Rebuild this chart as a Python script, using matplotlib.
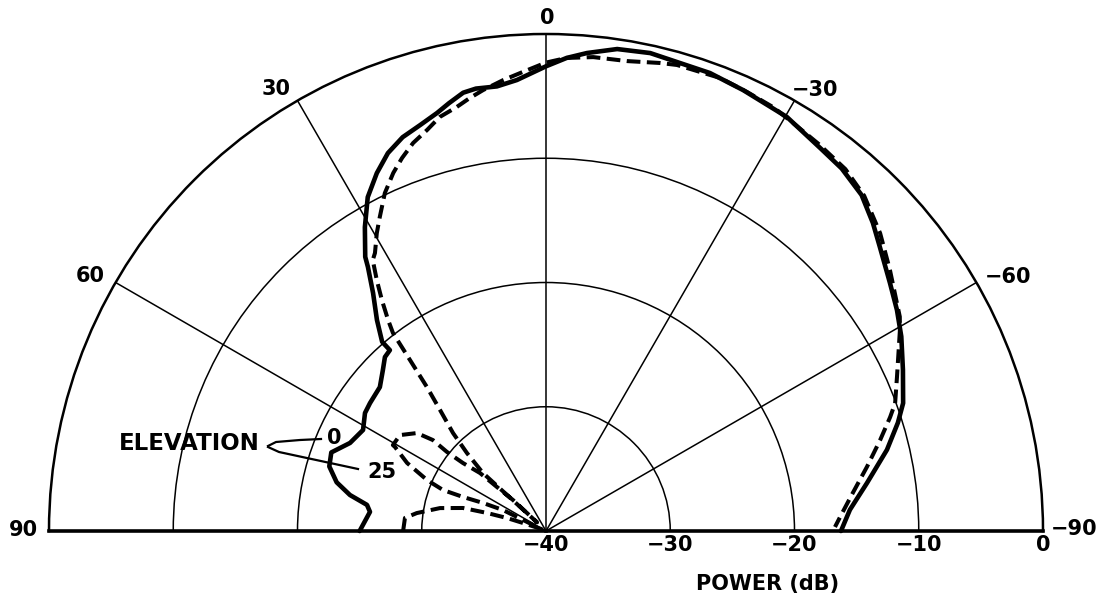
import numpy as np
import matplotlib
matplotlib.use("Agg")
import matplotlib.pyplot as plt
from matplotlib.lines import Line2D

# ---------------- data (azimuth in degrees, power in dB) ----------------
elev0_theta = [90.0, 83.8, 81.7, 79.6, 76.9, 73.4, 69.9, 65.8, 61.1, 56.9,
               54.0, 49.1, 45.4, 42.8, 40.8, 40.9, 38.7, 36.0, 34.0, 33.4,
               30.8, 28.1, 25.3, 22.7, 20.0, 17.2, 14.6, 12.8, 10.7, 9.0,
               6.3, 3.7, 0.0, -2.5, -4.9, -8.4, -12.3, -15.6, -19.7, -24.1,
               -30.2, -35.7, -39.2, -43.2, -46.7, -49.6, -54.2, -57.8, -61.3,
               -65.7, -70.3, -72.9, -76.6, -81.5, -86.0, -90.0]
elev0_db = [-25.0, -25.75, -25.44, -23.96, -22.7, -21.8, -21.6, -22.71, -23.18, -22.61,
            -22.49, -22.31, -21.56, -20.92, -20.77, -19.86, -18.24, -16.32, -14.37, -13.57,
            -11.53, -9.54, -8.14, -7.03, -6.27, -5.79, -5.23, -4.7, -4.1, -3.95,
            -4.0, -3.63, -2.6, -1.89, -1.39, -0.79, -0.63, -0.81, -0.85, -1.13,
            -1.45, -2.1, -2.35, -2.9, -3.85, -4.72, -5.87, -6.62, -7.4,
            -8.48, -9.47, -10.37, -11.79, -13.88, -15.48, -16.26]

elev25_theta = [90.0, 84.7, 82.1, 77.8, 74.5, 73.0, 71.6, 70.8, 67.0,
                64.0, 66.0, 67.7, 68.3, 66.8, 63.9, 60.9, 60.7, 56.7,
                52.8, 51.2, 51.4, 50.7, 48.7, 48.1, 46.8, 46.0,
                47.4, 45.4, 43.5, 41.2, 39.6, 38.5, 37.7, 36.8, 35.4,
                34.0, 32.6, 31.6, 29.6, 27.9, 25.5, 23.1, 21.1, 18.9,
                16.5, 14.4, 11.9, 10.0, 8.1, 5.4, 2.9, 0.0, -2.5,
                -5.7, -9.8, -13.7, -15.7, -21.0, -24.6, -28.2, -31.2, -35.2,
                -39.6, -43.5, -48.3, -52.8, -58.8, -60.4, -66.3, -69.9, -71.7,
                -74.8, -78.7, -82.9, -87.3, -89.2]
elev25_db = [-28.5, -28.6, -29.5, -31.27, -33.07, -35.03, -36.69, -38.04, -39.6,
             -36.15, -34.45, -32.78, -31.08, -29.58, -27.55, -26.09, -25.87, -25.94,
             -26.96, -28.32, -29.8, -31.36, -32.93, -34.7, -36.36, -39.0,
             -33.11, -31.07, -29.13, -27.05, -24.97, -22.41, -19.86, -18.78, -17.2,
             -15.65, -14.12, -13.73, -12.43, -11.41, -9.87, -8.67, -7.82, -6.99,
             -6.33, -5.6, -5.13, -4.62, -4.15, -3.54, -3.01, -2.3, -1.89,
             -1.67, -1.62, -1.23, -1.04, -0.94, -1.14, -1.3, -1.61, -1.9,
             -2.2, -2.8, -3.98, -5.25, -6.71, -7.24, -9.15, -10.08, -10.83,
             -12.14, -13.66, -15.11, -16.31, -16.74]

ring_levels = [-30, -20, -10]
spoke_angles = [-60, -30, 0, 30, 60]
angle_labels = ["0", "30", "\u221230", "60", "\u221260", "90", "\u221290"]
power_ticks = [-40, -30, -20, -10, 0]
power_labels = ["\u221240", "\u221230", "\u221220", "\u221210", "0"]
elev_labels = ["0", "25"]

# ---------------- layout ----------------
W, H = 1103, 597
cx, cy, R = 546, 531, 497          # pole position and outer radius in pixels
plt.rcParams["font.family"] = ["DejaVu Sans"]
plt.rcParams["font.weight"] = "bold"
FS = 15

fig = plt.figure(figsize=(W / 100, H / 100), dpi=100)
ax = fig.add_axes([(cx - R) / W, (H - cy - 0.5 * R) / H, 2 * R / W, 2 * R / H],
                  projection="polar")
ax.set_theta_zero_location("N")
ax.set_theta_direction(1)
ax.set_thetamin(-90)
ax.set_thetamax(90)
ax.set_rlim(-40, 0)
ax.set_thetagrids(spoke_angles, labels=[""] * len(spoke_angles))
ax.set_rgrids(ring_levels, labels=[""] * len(ring_levels))
ax.grid(True, color="black", lw=1.1, ls="-")
ax.tick_params(length=0)
ax.spines["polar"].set_linewidth(1.8)
ax.spines["start"].set_linewidth(2.6)
ax.spines["end"].set_linewidth(2.6)
if "inner" in ax.spines:
    ax.spines["inner"].set_visible(False)

ax.plot(np.radians(elev0_theta), elev0_db, color="black", lw=3.3,
        solid_joinstyle="round", solid_capstyle="round", clip_on=False, zorder=3)
ax.plot(np.radians(elev25_theta), elev25_db, color="black", lw=2.9,
        ls=(0, (3.4, 1.6)), clip_on=False, zorder=3)


def fpx(x, y):
    return (x / W, 1 - y / H)


# angle labels (figure pixel centres)
angle_pos = [(547, 18), (276, 89), (815, 90), (90, 276), (1008, 277), (23, 530), (1074, 529)]
for lab, (x, y) in zip(angle_labels, angle_pos):
    fig.text(*fpx(x, y), lab, ha="center", va="center", fontsize=FS, fontweight="bold")

# power axis labels along the baseline (right side)
for r, lab in zip(power_ticks, power_labels):
    ax.annotate(lab, xy=(np.radians(-90), r), xytext=(0, -14), textcoords="offset pixels",
                ha="center", va="center", fontsize=FS, fontweight="bold", annotation_clip=False)
fig.text(*fpx(768, 584), "POWER (dB)", ha="center", va="center", fontsize=FS, fontweight="bold")

# elevation annotation
fig.text(*fpx(189, 443), "ELEVATION", ha="center", va="center", fontsize=16.5, fontweight="bold")
fig.text(*fpx(334, 438), elev_labels[0], ha="center", va="center", fontsize=FS, fontweight="bold")
fig.text(*fpx(382, 472), elev_labels[1], ha="center", va="center", fontsize=FS, fontweight="bold")
up = [(268, 446), (276, 442), (300, 440), (321, 439)]
lo = [(268, 447), (279, 452), (358, 469)]
for pts in (up, lo):
    xs, ys = zip(*[fpx(x, y) for x, y in pts])
    fig.add_artist(Line2D(xs, ys, transform=fig.transFigure, color="black", lw=1.6))

fig.savefig("out.png", dpi=100)
